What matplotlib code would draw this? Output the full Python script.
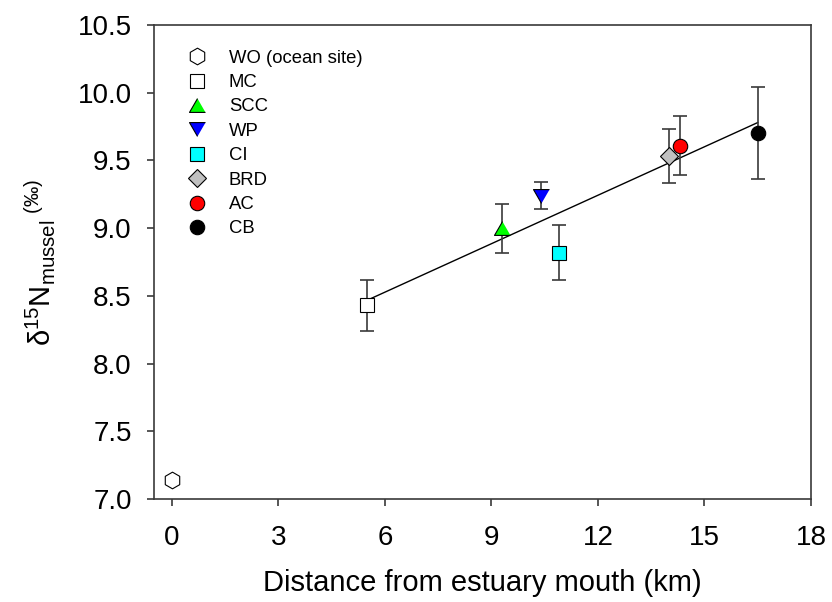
import numpy as np
import matplotlib
matplotlib.use("Agg")
import matplotlib.pyplot as plt

plt.rcParams['font.family'] = ['Liberation Sans', 'DejaVu Sans']
plt.rcParams['mathtext.fontset'] = 'custom'
plt.rcParams['mathtext.rm'] = 'Liberation Sans'
plt.rcParams['mathtext.it'] = 'Liberation Sans'
plt.rcParams['mathtext.bf'] = 'Liberation Sans:bold'
plt.rcParams['mathtext.sf'] = 'Liberation Sans'

# ---- data ----
sites = ["WO (ocean site)", "MC", "SCC", "WP", "CI", "BRD", "AC", "CB"]
distance_km = [0.0, 5.5, 9.3, 10.4, 10.9, 14.0, 14.3, 16.5]
d15n = [7.14, 8.43, 9.00, 9.24, 8.82, 9.53, 9.61, 9.70]
d15n_err = [0.0, 0.19, 0.18, 0.10, 0.20, 0.20, 0.22, 0.34]
face_colors = ["white", "white", "#00ff00", "#0000ff", "#00ffff", "#c0c0c0", "#ff0000", "black"]

x_ticks = [0, 3, 6, 9, 12, 15, 18]
y_ticks = [7.0, 7.5, 8.0, 8.5, 9.0, 9.5, 10.0, 10.5]

tri_up = [(0, 0.866), (-1, -0.866), (1, -0.866)]
tri_down = [(0, -0.866), (-1, 0.866), (1, 0.866)]
markers = ["h", "s", tri_up, tri_down, "s", "D", "o", "o"]
msizes = [12.0, 10.2, 11.5, 11.5, 10.6, 9.6, 10.4, 10.4]

fig = plt.figure(figsize=(8.32, 6.02), dpi=100)
ax = fig.add_axes([154 / 832, 103 / 602, 657 / 832, 474 / 602])

ax.set_xlim(-0.5, 18)
ax.set_ylim(7.0, 10.5)

# regression over the estuary sites (exclude ocean site)
xs = np.array(distance_km[1:])
ys = np.array(d15n[1:])
slope, intercept = np.polyfit(xs, ys, 1)
xl = np.array([xs.min(), xs.max()])
ax.plot(xl, slope * xl + intercept, color="black", lw=1.0, zorder=2)

ecol = "#3a3a3a"
for i in range(1, len(sites)):
    ax.errorbar(distance_km[i], d15n[i], yerr=d15n_err[i], fmt="none",
                ecolor=ecol, elinewidth=1.2, capsize=5, capthick=1.2, zorder=3)

for s, x, y, fc, m, ms in zip(sites, distance_km, d15n, face_colors, markers, msizes):
    ax.plot([x], [y], linestyle="none", marker=m, markersize=ms,
            markerfacecolor=fc, markeredgecolor="black", markeredgewidth=0.8,
            label=s, zorder=4)

ax.set_xticks(x_ticks)
ax.set_xticklabels([str(t) for t in x_ticks])
ax.set_yticks(y_ticks)
ax.set_yticklabels([f"{t:.1f}" for t in y_ticks])

for sp in ax.spines.values():
    sp.set_linewidth(1.2)
    sp.set_color(ecol)
ax.tick_params(axis="both", direction="out", length=5, width=1.2, color=ecol,
               labelsize=20, top=False, right=False)
ax.tick_params(axis="x", pad=14)
ax.tick_params(axis="y", pad=11)

ax.set_xlabel("Distance from estuary mouth (km)", fontsize=21, labelpad=13)
ax.set_ylabel("δ$^{15}$N$_{mussel}$$^{\\ (‰)}$", fontsize=21, labelpad=14)

leg = ax.legend(loc="upper left", bbox_to_anchor=(0.0373, 0.948), frameon=False,
                fontsize=13.3, labelspacing=0.4, handlelength=2.0,
                handletextpad=0.73, borderpad=0, borderaxespad=0, numpoints=1)

fig.savefig("out.png", dpi=100)
